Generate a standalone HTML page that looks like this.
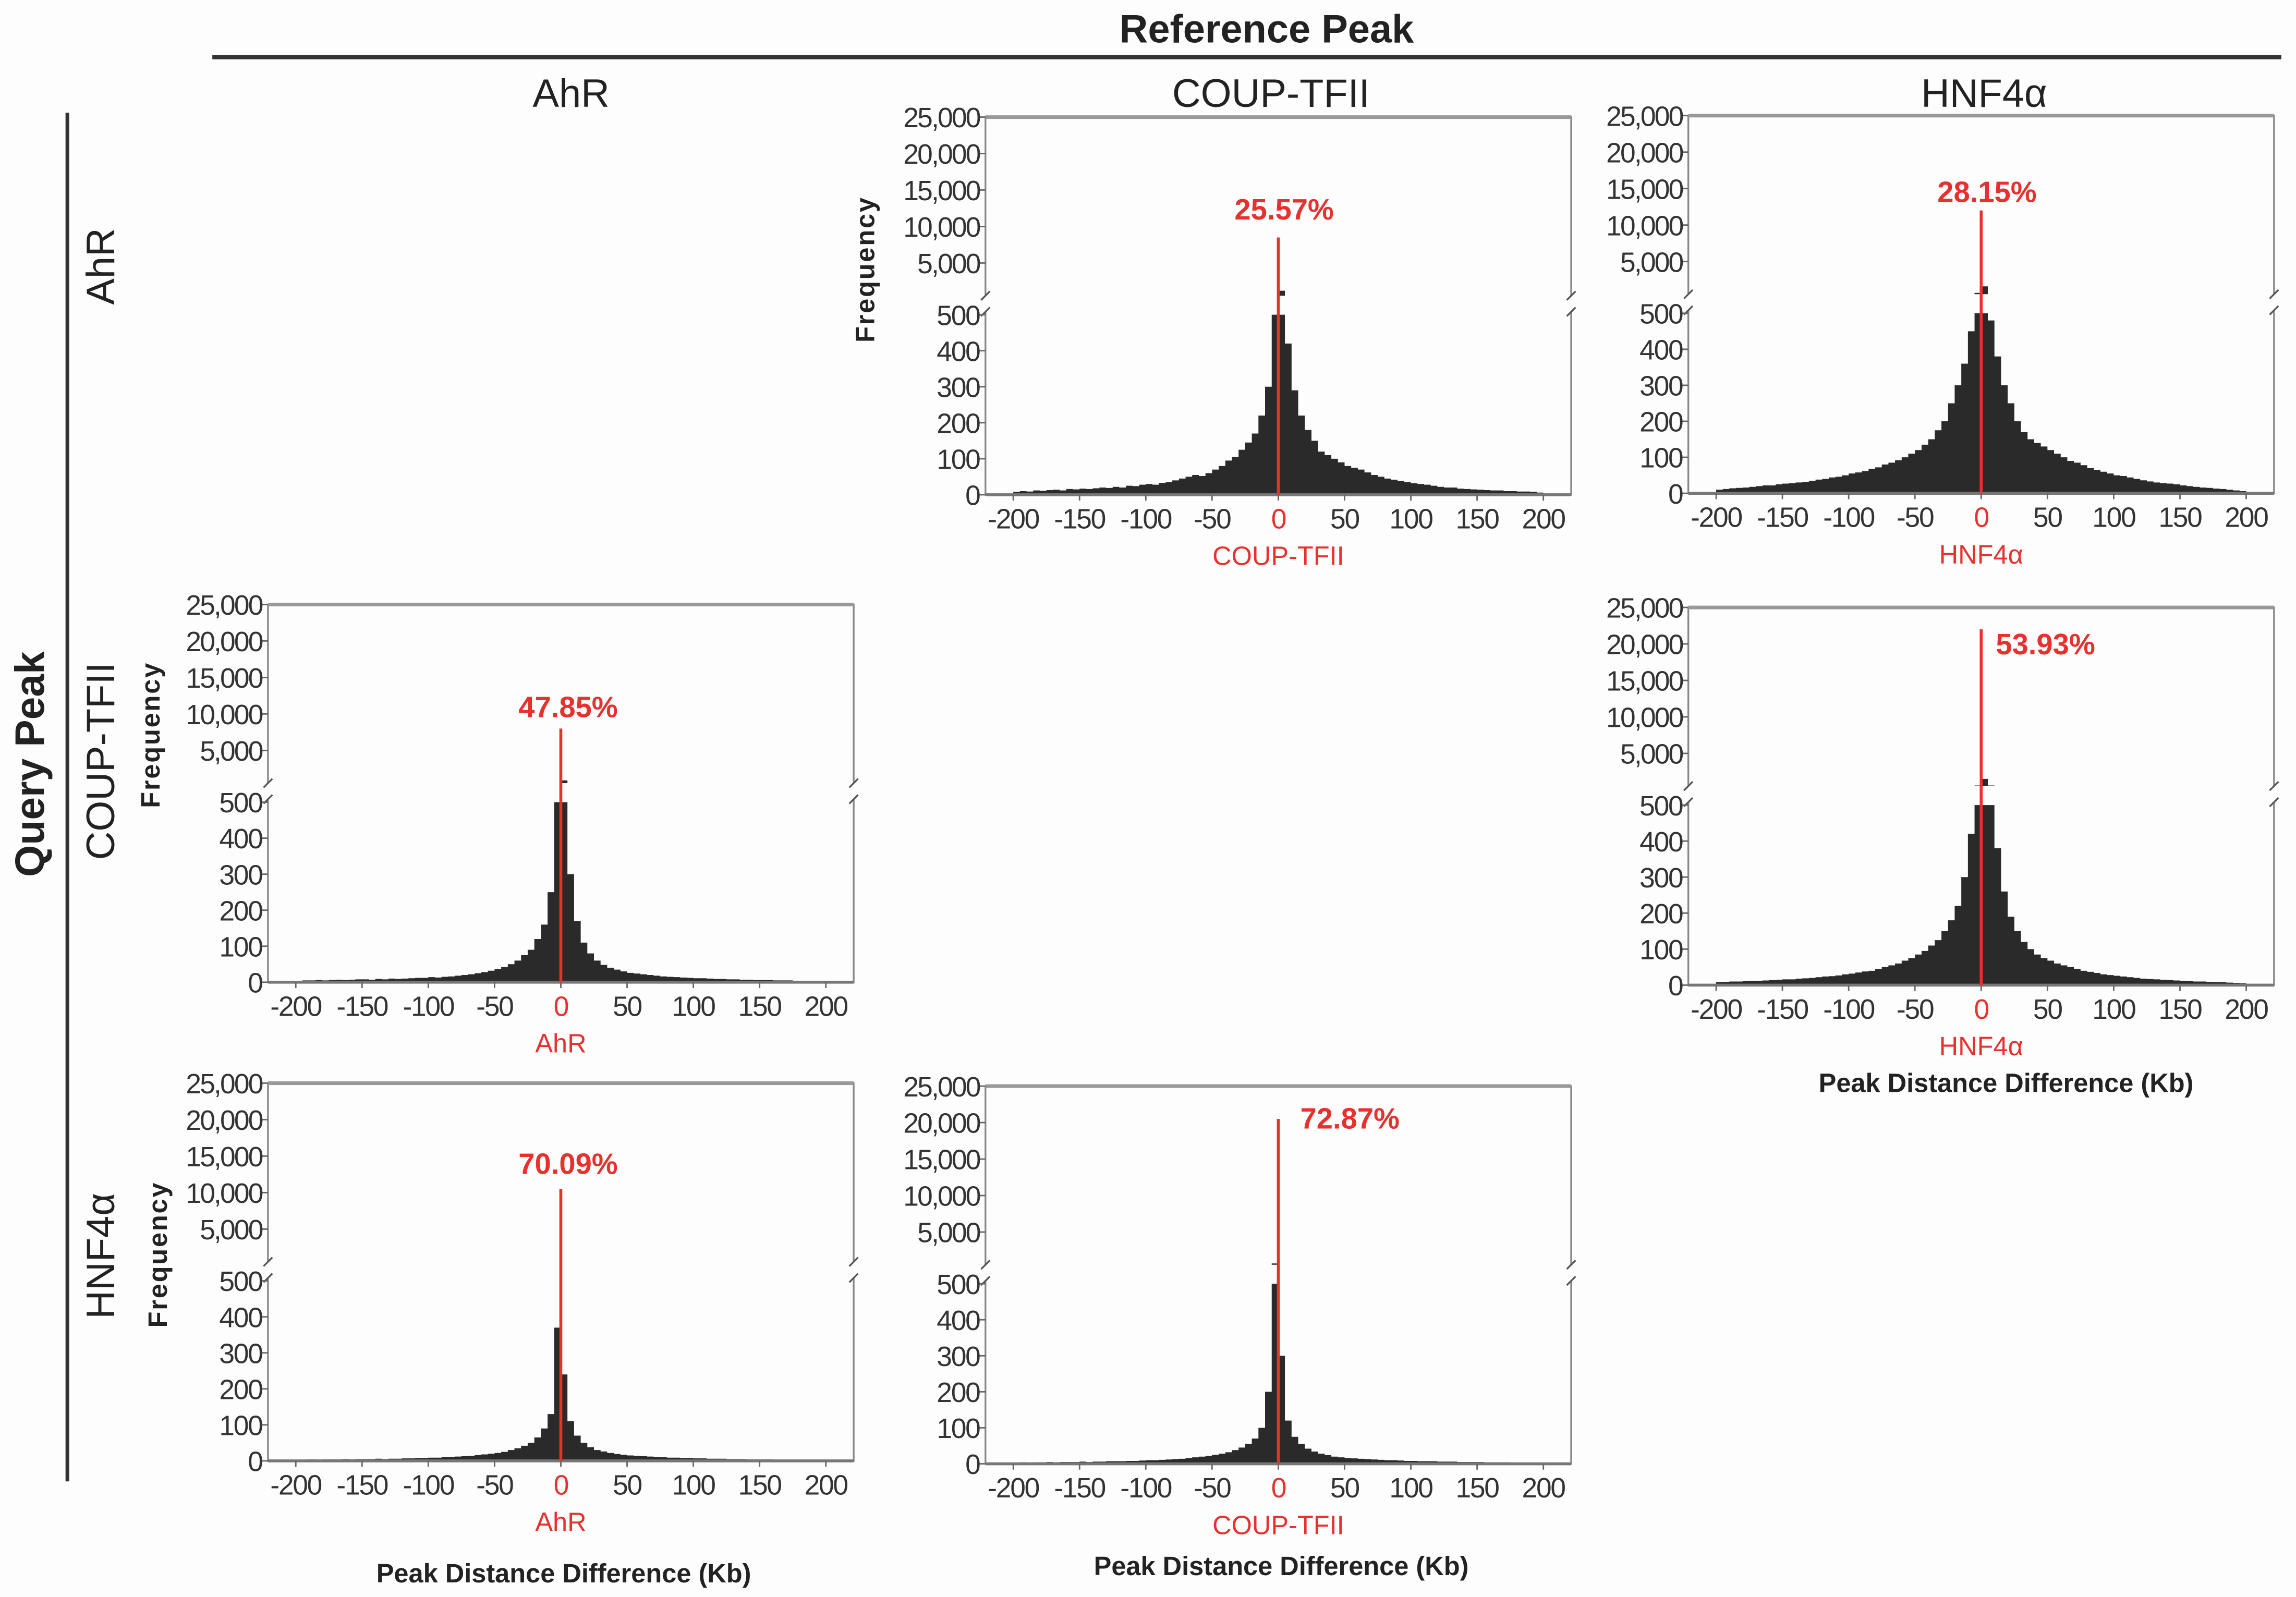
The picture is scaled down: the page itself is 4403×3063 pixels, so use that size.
<!DOCTYPE html>
<html><head><meta charset="utf-8">
<style>
html,body{margin:0;padding:0;background:#fdfdfd;}
svg{display:block;}
text{font-family:"Liberation Sans",sans-serif;}
</style></head>
<body>
<svg id="fig" width="4403" height="3063" viewBox="0 0 1568 1091" preserveAspectRatio="none" xmlns="http://www.w3.org/2000/svg">
<rect x="0" y="0" width="1568" height="1091" fill="#fdfdfd"/>
<text x="865" y="29" font-size="27" font-weight="bold" text-anchor="middle" fill="#222">Reference Peak</text>
<line x1="145" y1="39" x2="1558" y2="39" stroke="#333" stroke-width="3"/>
<text x="390" y="73" font-size="27" text-anchor="middle" fill="#222">AhR</text>
<text x="868" y="73" font-size="27" text-anchor="middle" fill="#222">COUP-TFII</text>
<text x="1355" y="73" font-size="27" text-anchor="middle" fill="#222">HNF4α</text>
<line x1="46" y1="77" x2="46" y2="1012" stroke="#333" stroke-width="2.5"/>
<text transform="translate(30,522) rotate(-90)" font-size="28" font-weight="bold" text-anchor="middle" fill="#222">Query Peak</text>
<text transform="translate(78,182) rotate(-90)" font-size="27" text-anchor="middle" fill="#222">AhR</text>
<text transform="translate(78,520) rotate(-90)" font-size="27" text-anchor="middle" fill="#222">COUP-TFII</text>
<text transform="translate(78,858) rotate(-90)" font-size="27" text-anchor="middle" fill="#222">HNF4α</text>
<g id="panels"></g>
</svg>
<script>
// bins: 80 bins of 5 kb from -200 to 200
const binStart = -200;
const binWidth = 5;
const xTicks = [-200,-150,-100,-50,0,50,100,150,200];
const yTicksLower = [0,100,200,300,400,500];
const yTicksUpper = [5000,10000,15000,20000,25000];
const yTickLabelsUpper = ["5,000","10,000","15,000","20,000","25,000"];

const countsAhrVsCoup = [8,10,9,12,11,13,14,12,16,15, 17,16,18,20,19,22,20,25,24,28, 30,28,33,35,40,45,50,55,52,60, 70,80,95,105,125,145,170,220,300,520, 1200,420,290,220,180,150,120,110,100,90, 80,75,70,62,55,50,45,42,38,35, 32,30,28,25,22,20,20,17,16,15, 14,13,12,12,10,10,9,9,8,6];
const countsAhrVsHnf = [10,12,14,15,16,18,20,22,22,25, 27,28,30,32,35,38,40,44,46,50, 55,58,62,68,72,80,85,92,100,110, 120,135,150,175,200,250,300,360,450,700, 1600,480,380,300,250,200,170,150,140,130, 120,110,100,90,85,78,70,65,60,55, 50,48,44,40,36,33,30,28,27,25, 22,20,18,16,15,13,12,10,8,6];
const countsCoupVsAhr = [4,5,5,6,5,6,7,6,7,8, 8,7,9,8,10,9,10,11,12,12, 14,13,15,16,18,20,22,25,28,32, 36,42,50,60,75,90,120,160,250,520, 900,300,170,110,80,60,48,40,35,30, 26,24,22,20,18,16,15,14,13,12, 11,11,10,9,9,8,8,7,7,6, 6,6,5,5,5,4,4,4,3,3];
const countsCoupVsHnf = [8,9,10,10,11,12,12,13,14,15, 16,16,18,19,20,22,24,25,27,30, 32,35,38,40,45,50,55,60,68,75, 85,95,110,125,150,180,220,300,420,600, 1500,600,380,260,190,150,120,100,85,75, 68,60,55,50,45,40,37,34,30,28, 26,24,22,20,18,17,16,15,14,13, 12,11,10,10,9,8,8,7,6,5];
const countsHnfVsAhr = [3,3,4,3,4,4,4,5,4,5, 5,5,6,5,6,6,7,7,8,8, 9,9,10,11,12,13,14,16,18,20, 22,25,30,35,42,50,65,90,130,370, 240,110,70,50,38,30,26,22,19,17, 15,14,13,12,11,10,9,9,8,8, 7,7,6,6,6,5,5,5,4,4, 4,4,3,3,3,3,3,2,2,2];
const countsHnfVsCoup = [3,4,3,4,4,5,4,5,5,5, 6,5,6,6,7,7,7,8,8,9, 10,10,11,12,13,14,16,18,20,22, 25,28,32,38,45,55,70,100,200,700, 300,120,75,55,42,34,28,24,20,18, 16,15,14,13,12,11,10,10,9,8, 8,7,7,7,6,6,6,5,5,5, 5,4,4,4,4,3,3,3,3,3];

const percentLabels = ["25.57%","28.15%","47.85%","53.93%","70.09%","72.87%"];
const markerHeights = [8500,12000,8000,22000,10500,20500];

const panels = [
 {name:"ahr-query-coup-ref", counts:countsAhrVsCoup, L:673, T:80, pct:0, lab:"COUP-TFII", ptx:877, pty:150, anchor:"middle", freq:true, fx:597, fy:184, xtitle:null},
 {name:"ahr-query-hnf4a-ref", counts:countsAhrVsHnf, L:1153, T:79, pct:1, lab:"HNF4α", ptx:1357, pty:138, anchor:"middle", freq:false, xtitle:null},
 {name:"coup-query-ahr-ref", counts:countsCoupVsAhr, L:183, T:413, pct:2, lab:"AhR", ptx:388, pty:490, anchor:"middle", freq:true, fx:109, fy:502, xtitle:null},
 {name:"coup-query-hnf4a-ref", counts:countsCoupVsHnf, L:1153, T:415, pct:3, lab:"HNF4α", ptx:1363, pty:447, anchor:"start", freq:false, xtitle:[1370,746]},
 {name:"hnf4a-query-ahr-ref", counts:countsHnfVsAhr, L:183, T:740, pct:4, lab:"AhR", ptx:388, pty:802, anchor:"middle", freq:true, fx:114, fy:857, xtitle:[385,1081]},
 {name:"hnf4a-query-coup-ref", counts:countsHnfVsCoup, L:673, T:742, pct:5, lab:"COUP-TFII", ptx:888, pty:771, anchor:"start", freq:false, xtitle:[875,1076]}
];

const NS="http://www.w3.org/2000/svg";
const root=document.getElementById('panels');
function mk(tag, attrs, parent){const e=document.createElementNS(NS,tag);for(const k in attrs)e.setAttribute(k,attrs[k]);(parent||root).appendChild(e);return e;}

panels.forEach(p=>{
  const g=mk('g',{});
  
  
  const L=p.L,R=p.L+400,T=p.T;
  const Z=T+258, Y500=T+135, brk=T+122, up0=T+124.6;
  const xs=v=>L+19+(v+200)*(362/400);
  const yl=v=>Z-Math.min(v,500)*(Z-Y500)/500;
  const yu=v=>up0-v*(99.7/20000);
  let d='';
  p.counts.forEach((c,i)=>{
    const x0=xs(binStart+i*binWidth), x1=xs(binStart+(i+1)*binWidth);
    const y=yl(c);
    d+=`M${x0.toFixed(2)},${Z}V${y.toFixed(2)}H${x1.toFixed(2)}V${Z}Z`;
    if(c>500){const yy=Math.max(yu(c),T);d+=`M${x0.toFixed(2)},${brk}V${yy.toFixed(2)}H${x1.toFixed(2)}V${brk}Z`;}
  });
  const bars=mk('path',{d:d,fill:'#2a2a2a'},g);
  
  
  const fr=mk('path',{d:`M${L},${brk}V${T}H${R}V${brk} M${L},${Y500-2}V${Z}H${R}V${Y500-2}`,fill:'none',stroke:'#888',"stroke-width":1.2},g);
  mk('line',{x1:L,y1:T,x2:R,y2:T,stroke:'#999','stroke-width':2.5},g);
  mk('line',{x1:L,y1:Z,x2:R,y2:Z,stroke:'#777','stroke-width':2},g);
  
  
  [L,R].forEach(x=>{
    mk('path',{d:`M${x-3},${brk+3}L${x+3},${brk-3} M${x-3},${Y500+1}L${x+3},${Y500-5}`,stroke:'#555','stroke-width':1.2,fill:'none'},g);
  });
  yTicksLower.forEach(v=>{
    const y=yl(v);
    mk('line',{x1:L-4,y1:y,x2:L,y2:y,stroke:'#666','stroke-width':1},g);
    const t=mk('text',{x:L-4,y:y+7,'font-size':19,'text-anchor':'end',fill:'#333','letter-spacing':'-0.8'},g);
    t.textContent=String(v);
    
    
  });
  yTicksUpper.forEach((v,i)=>{
    const y=yu(v);
    mk('line',{x1:L-4,y1:y,x2:L,y2:y,stroke:'#666','stroke-width':1},g);
    const t=mk('text',{x:L-4,y:y+7,'font-size':19,'text-anchor':'end',fill:'#333','letter-spacing':'-1'},g);
    t.textContent=yTickLabelsUpper[i];
    
    
  });
  xTicks.forEach(v=>{
    const x=xs(v);
    mk('line',{x1:x,y1:Z,x2:x,y2:Z+4,stroke:'#666','stroke-width':1},g);
    const t=mk('text',{x:x,y:Z+23,'font-size':19,'text-anchor':'middle',fill:v===0?'#e8312f':'#333','letter-spacing':'-0.8'},g);
    t.textContent=String(v);
    
    
  });
  const mh=markerHeights[p.pct];
  const rl=mk('line',{x1:xs(0),y1:Z,x2:xs(0),y2:yu(mh),stroke:'#e8312f','stroke-width':2},g);
  
  
  const pt=mk('text',{x:p.ptx,y:p.pty,'font-size':20,'font-weight':'bold','text-anchor':p.anchor,fill:'#e8312f'},g);
  pt.textContent=percentLabels[p.pct];
  
  
  const xl=mk('text',{x:xs(0),y:Z+48,'font-size':18,'text-anchor':'middle',fill:'#e8312f'},g);
  xl.textContent=p.lab;
  
  
  if(p.freq){
    const f=mk('text',{transform:`translate(${p.fx},${p.fy}) rotate(-90)`,'font-size':18,'font-weight':'bold','text-anchor':'middle',fill:'#222','letter-spacing':'1'},g);
    f.textContent='Frequency';
    
    
  }
  if(p.xtitle){
    const xt=mk('text',{x:p.xtitle[0],y:p.xtitle[1],'font-size':18,'font-weight':'bold','text-anchor':'middle',fill:'#222'},g);
    xt.textContent='Peak Distance Difference (Kb)';
    
    
  }
});
</script>
</body></html>
